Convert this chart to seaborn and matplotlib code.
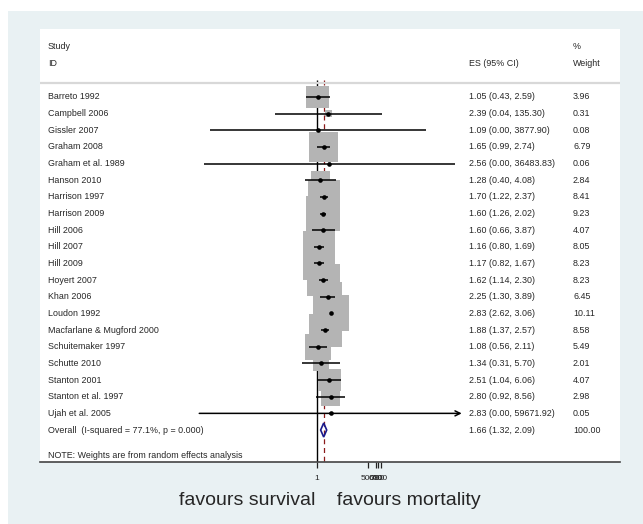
import numpy as np
import pandas as pd
import seaborn as sns
import matplotlib.pyplot as plt
from matplotlib.patches import Rectangle, Polygon
from matplotlib.ticker import NullLocator

studies = ['Barreto 1992', 'Campbell 2006', 'Gissler 2007', 'Graham 2008', 'Graham et al. 1989',
           'Hanson 2010', 'Harrison 1997', 'Harrison 2009', 'Hill 2006', 'Hill 2007', 'Hill 2009',
           'Hoyert 2007', 'Khan 2006', 'Loudon 1992', 'Macfarlane & Mugford 2000',
           'Schuitemaker 1997', 'Schutte 2010', 'Stanton 2001', 'Stanton et al. 1997', 'Ujah et al. 2005']
es = [1.05, 2.39, 1.09, 1.65, 2.56, 1.28, 1.70, 1.60, 1.60, 1.16, 1.17, 1.62, 2.25, 2.83, 1.88,
      1.08, 1.34, 2.51, 2.80, 2.83]
lo = [0.43, 0.04, 0.0003, 0.99, 0.00018, 0.40, 1.22, 1.26, 0.66, 0.80, 0.82, 1.14, 1.30, 2.62, 1.37,
      0.56, 0.31, 1.04, 0.92, 0.00013]
hi = [2.59, 135.30, 3877.90, 2.74, 36483.83, 4.08, 2.37, 2.02, 3.87, 1.69, 1.67, 2.30, 3.89, 3.06, 2.57,
      2.11, 5.70, 6.06, 8.56, 59671.92]
weight = [3.96, 0.31, 0.08, 6.79, 0.06, 2.84, 8.41, 9.23, 4.07, 8.05, 8.23, 8.23, 6.45, 10.11, 8.58,
          5.49, 2.01, 4.07, 2.98, 0.05]
arrow_right = ['Ujah et al. 2005']

overall_es, overall_lo, overall_hi = 1.66, 1.32, 2.09
overall_wt = '100.00'
overall_label = 'Overall  (I-squared = 77.1%, p = 0.000)'
note = 'NOTE: Weights are from random effects analysis'

tick_pos = [1, 48.2, 88.5, 103, 129.5]
tick_labels = ['1', '500', '600', '700', '800']

df = pd.DataFrame({'study': studies, 'es': es, 'lo': lo, 'hi': hi, 'weight': weight})
df['row'] = np.arange(len(df))

sns.set_style('white')
plt.rcParams['font.family'] = ['Liberation Sans', 'DejaVu Sans']

fig = plt.figure(figsize=(6.43, 5.24), dpi=100)
fig.patches.append(Rectangle((8 / 643, 0), 1, 1 - 11 / 524, transform=fig.transFigure,
                             facecolor='#e9f1f3', edgecolor='none', zorder=-10))
ax = fig.add_axes([40 / 643, 62 / 524, 580 / 643, 433 / 524])
ax.set_facecolor('white')

ax.set_xscale('log')
ax.set_xlim(10 ** -9.142, 10 ** 10.0)
ax.set_ylim(21.92, -4.08)

n = len(df)
y_over = n
y_note = n + 1.5
sep = -0.84
fs = 6.4
text_x = dict(study=48, es=469, wt=573)
tr = ax.get_yaxis_transform()

def col(px):
    return (px - 40) / 580

# reference lines
ax.vlines(1, -1.0, 21.92, color='black', lw=1, zorder=1)
ax.vlines(overall_es, -1.0, 21.92, color='#8b1a1a', lw=0.9, ls=(0, (4, 3)), zorder=1)
ax.axhline(sep, color='#d8d8d8', lw=1.6, zorder=1)

# weight boxes (area proportional to weight)
k = 66.2
sns.scatterplot(data=df, x='es', y='row', size='weight', sizes=(k * min(weight), k * max(weight)),
                size_norm=(min(weight), max(weight)), marker='s', color='#b4b4b4', linewidth=0,
                legend=False, ax=ax, zorder=2)

# confidence intervals
for _, r in df.iterrows():
    if r['study'] in arrow_right:
        ax.annotate('', xy=(r['hi'], r['row']), xytext=(r['lo'], r['row']),
                    arrowprops=dict(arrowstyle='->', lw=1.1, color='black', shrinkA=0, shrinkB=0,
                                    mutation_scale=9), zorder=3)
    else:
        ax.plot([r['lo'], r['hi']], [r['row'], r['row']], color='black', lw=1.1, zorder=3,
                solid_capstyle='butt')

sns.scatterplot(data=df, x='es', y='row', color='black', s=11, linewidth=0, legend=False, ax=ax,
                zorder=4)

# overall diamond
h = 0.42
ax.add_patch(Polygon([(overall_lo, y_over), (overall_es, y_over - h), (overall_hi, y_over),
                      (overall_es, y_over + h)], closed=True, facecolor='none',
                     edgecolor='#1a1a8c', lw=1.2, zorder=5))

# text columns
ax.text(col(text_x['study']), -3.0, 'Study', transform=tr, fontsize=fs, va='center')
ax.text(col(text_x['study']), -2.0, 'ID', transform=tr, fontsize=fs, va='center')
ax.text(col(text_x['es']), -2.0, 'ES (95% CI)', transform=tr, fontsize=fs, va='center')
ax.text(col(text_x['wt']), -3.0, '%', transform=tr, fontsize=fs, va='center')
ax.text(col(text_x['wt']), -2.0, 'Weight', transform=tr, fontsize=fs, va='center')
for _, r in df.iterrows():
    ax.text(col(text_x['study']), r['row'], r['study'], transform=tr, fontsize=fs, va='center')
    ax.text(col(text_x['es']), r['row'], f"{r['es']:.2f} ({r['lo']:.2f}, {r['hi']:.2f})",
            transform=tr, fontsize=fs, va='center')
    ax.text(col(text_x['wt']), r['row'], f"{r['weight']:.2f}", transform=tr, fontsize=fs, va='center')
ax.text(col(text_x['study']), y_over, overall_label, transform=tr, fontsize=fs, va='center')
ax.text(col(text_x['es']), y_over, f'{overall_es:.2f} ({overall_lo:.2f}, {overall_hi:.2f})',
        transform=tr, fontsize=fs, va='center')
ax.text(col(text_x['wt']), y_over, overall_wt, transform=tr, fontsize=fs, va='center')
ax.text(col(text_x['study']), y_note, note, transform=tr, fontsize=fs, va='center')

# axes styling
for s in ['top', 'left', 'right']:
    ax.spines[s].set_visible(False)
ax.spines['bottom'].set_color('#444444')
ax.spines['bottom'].set_linewidth(1.2)
ax.set_yticks([])
ax.set_ylabel('')
ax.set_xticks(tick_pos)
ax.set_xticklabels(tick_labels)
ax.xaxis.set_minor_locator(NullLocator())
ax.tick_params(axis='x', direction='out', length=4.5, width=0.9, color='#222222', labelsize=6,
               pad=5, bottom=True)
ax.set_xlabel('favours survival    favours mortality', fontsize=14)
ax.xaxis.set_label_coords(0.5, -0.088)
ax.xaxis.label.set_va('center')

fig.savefig('out.png', dpi=100, facecolor='white')
